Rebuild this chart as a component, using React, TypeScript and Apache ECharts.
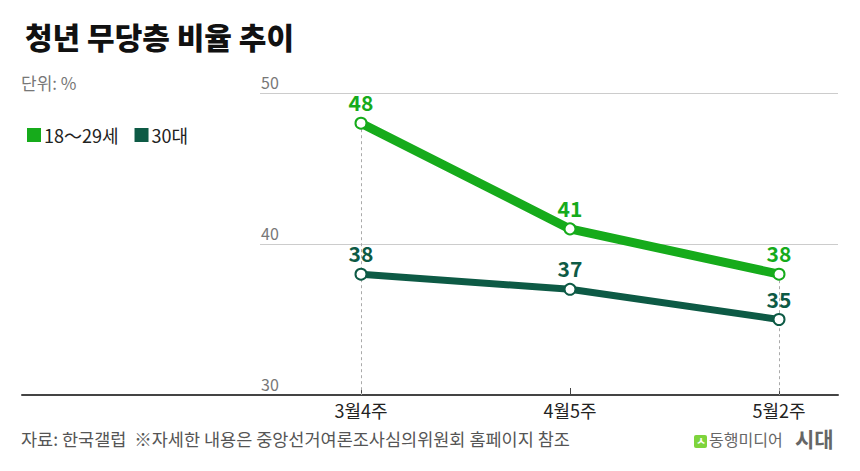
import React, { useEffect, useRef } from "react";
import * as echarts from "echarts";

const categories = ["3월4주", "4월5주", "5월2주"];
const youth = [48, 41, 38];
const thirties = [38, 37, 35];
const seriesNames = ["18～29세", "30대"];
const yMin = 30;
const yMax = 50;
const yInterval = 10;
const dashedAt = [0, 2];

const GREEN = "#16ab1b";
const DARK = "#0d5a45";
const FONT = "'Noto Sans CJK KR', 'Noto Sans', sans-serif";

export default function App() {
  const ref = useRef<HTMLDivElement>(null);
  useEffect(() => {
    document.body.style.margin = "0";
    const chart = echarts.init(ref.current!, null, { renderer: "svg" });
    const option: any = {
      animation: false,
      backgroundColor: "#ffffff",
      textStyle: { fontFamily: FONT },
      title: {
        text: "청년 무당층 비율 추이",
        left: 20,
        top: 16,
        textStyle: { fontFamily: FONT, fontSize: 30, fontWeight: 900, color: "#111" },
      },
      legend: {
        data: [
          { name: seriesNames[0], itemStyle: { color: GREEN, borderWidth: 0 } },
          { name: seriesNames[1], itemStyle: { color: DARK, borderWidth: 0 } },
        ],
        left: 22,
        top: 121,
        icon: "rect",
        itemWidth: 14,
        itemHeight: 14,
        itemGap: 16,
        selectedMode: false,
        textStyle: { fontFamily: FONT, fontSize: 18, color: "#222", padding: [0, 0, 0, -2] },
      },
      grid: [
        { left: 361, right: 81, top: 93, bottom: 76 },
        { left: 260, right: 22, top: 93, bottom: 76 },
        { left: 22, right: 22, bottom: 76, height: 10 },
      ],
      xAxis: [
        {
          gridIndex: 0,
          type: "category",
          data: categories,
          boundaryGap: false,
          axisLine: { show: false },
          axisTick: { show: true, inside: true, length: 7, lineStyle: { color: "#444", width: 1 } },
          axisLabel: { color: "#222", fontSize: 18, margin: 6, fontFamily: FONT },
          splitLine: { show: false },
        },
        { gridIndex: 1, type: "value", show: false },
        {
          gridIndex: 2,
          type: "value",
          axisLine: { show: true, lineStyle: { color: "#444", width: 2 } },
          axisTick: { show: false },
          axisLabel: { show: false },
          splitLine: { show: false },
        },
      ],
      yAxis: [
        { gridIndex: 0, type: "value", min: yMin, max: yMax, interval: yInterval, show: false },
        {
          gridIndex: 1,
          type: "value",
          min: yMin,
          max: yMax,
          interval: yInterval,
          axisLine: { show: false },
          axisTick: { show: false },
          splitLine: { show: true, lineStyle: { color: "#cccccc", width: 1 } },
          axisLabel: {
            inside: true,
            align: "left",
            verticalAlign: "bottom",
            margin: 1,
            padding: [0, 0, 3, 0],
            color: "#777",
            fontSize: 16,
            fontFamily: FONT,
          },
        },
        { gridIndex: 2, type: "value", show: false },
      ],
      series: [
        {
          type: "line",
          name: "guides",
          xAxisIndex: 0,
          yAxisIndex: 0,
          data: [],
          z: 1,
          silent: true,
          markLine: {
            z: 1,
            silent: true,
            symbol: "none",
            label: { show: false },
            lineStyle: { type: [3, 3], color: "#aaaaaa", width: 1 },
            data: dashedAt.map((i) => [
              { coord: [i, Math.max(youth[i], thirties[i])] },
              { coord: [i, yMin] },
            ]),
          },
        },
        {
          type: "line",
          name: seriesNames[0],
          xAxisIndex: 0,
          yAxisIndex: 0,
          data: youth,
          z: 3,
          color: GREEN,
          lineStyle: { color: GREEN, width: 9 },
          symbol: "circle",
          symbolSize: 11,
          itemStyle: { color: "#fff", borderColor: GREEN, borderWidth: 2 },
          label: {
            show: true,
            position: "top",
            distance: 4,
            color: GREEN,
            fontSize: 21,
            fontWeight: "bold",
            fontFamily: FONT,
          },
        },
        {
          type: "line",
          name: seriesNames[1],
          xAxisIndex: 0,
          yAxisIndex: 0,
          data: thirties,
          z: 3,
          color: DARK,
          lineStyle: { color: DARK, width: 7 },
          symbol: "circle",
          symbolSize: 11,
          itemStyle: { color: "#fff", borderColor: DARK, borderWidth: 2 },
          label: {
            show: true,
            position: "top",
            distance: 4,
            color: DARK,
            fontSize: 21,
            fontWeight: "bold",
            fontFamily: FONT,
          },
        },
      ],
      graphic: [
        {
          type: "text",
          left: 21,
          top: 74,
          style: { text: "단위: %", fontSize: 17, fill: "#777", fontFamily: FONT },
        },
        {
          type: "text",
          left: 21,
          top: 430,
          style: {
            text: "자료: 한국갤럽  ※자세한 내용은 중앙선거여론조사심의위원회 홈페이지 참조",
            fontSize: 17.5,
            fill: "#555",
            fontFamily: FONT,
          },
        },
        {
          type: "rect",
          left: 694,
          top: 435,
          shape: { width: 13, height: 13, r: 2 },
          style: { fill: "#7ed43c" },
        },
        {
          type: "text",
          left: 696,
          top: 434,
          style: { text: "ㅅ", fontSize: 11, fontWeight: "bold", fill: "#fff", fontFamily: FONT },
        },
        {
          type: "text",
          left: 709,
          top: 431,
          style: { text: "동행미디어", fontSize: 16, fill: "#666", fontFamily: FONT },
        },
        {
          type: "text",
          left: 795,
          top: 427,
          style: { text: "시대", fontSize: 21, fontWeight: "bold", fill: "#666", fontFamily: FONT },
        },
      ],
    };
    chart.setOption(option);
    return () => chart.dispose();
  }, []);
  return <div ref={ref} style={{ width: 860, height: 471 }} />;
}
